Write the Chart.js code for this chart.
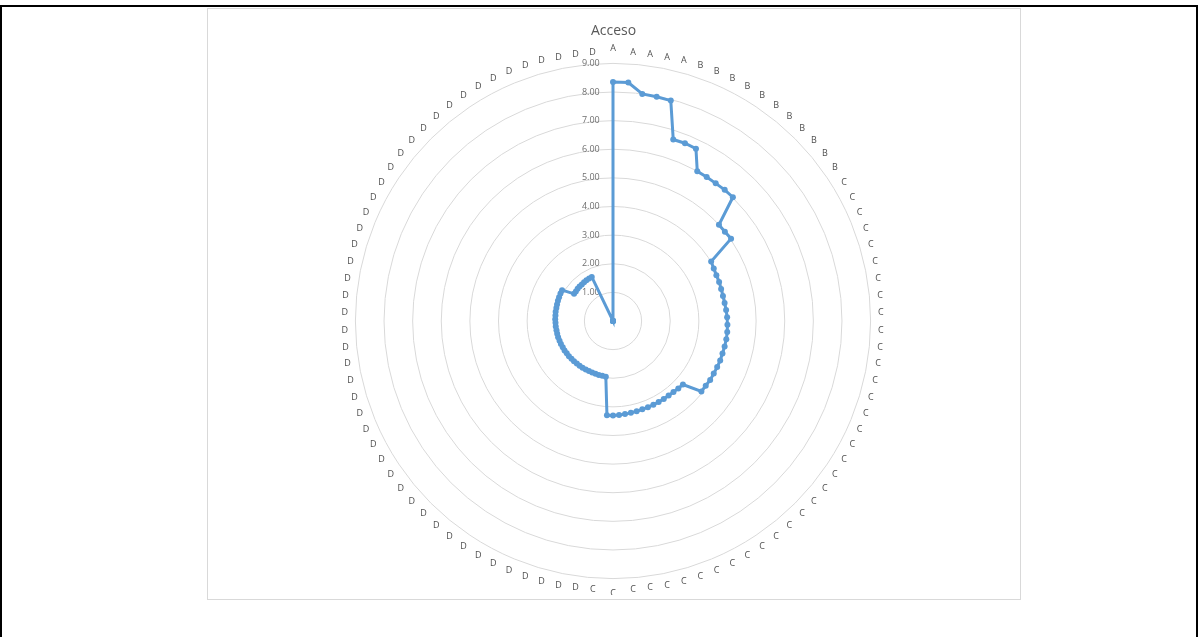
<!DOCTYPE html>
<html>
<head>
<meta charset="utf-8">
<title>Acceso</title>
<script src="https://cdn.jsdelivr.net/npm/chart.js@4/dist/chart.umd.min.js"></script>
<style>
  body { margin: 0; background: #fff; width: 1200px; height: 637px; overflow: hidden; position: relative; }
  #frame { position: absolute; left: 0; top: 5px; width: 1194px; height: 640px; border: 2px solid #000; border-bottom: none; }
  #box { position: absolute; left: 207px; top: 8px; width: 814px; height: 592px; border: 1px solid #d9d9d9; box-sizing: border-box; }
  #radar { position: absolute; left: 206px; top: 8px; }
</style>
</head>
<body>
<div id="frame"></div>
<div id="box"></div>
<canvas id="radar" width="815" height="587"></canvas>
<script>
"use strict"

// Kategorier (98 st, A-B-C-D runt cirkeln)
const categoriesA = ["A", "A", "A", "A", "A"];
const categoriesB = ["B", "B", "B", "B", "B", "B", "B", "B", "B", "B", "B"];
const categoriesC = [
    "C", "C", "C", "C", "C", "C", "C", "C", "C", "C",
    "C", "C", "C", "C", "C", "C", "C", "C", "C", "C",
    "C", "C", "C", "C", "C", "C", "C", "C", "C", "C",
    "C", "C", "C", "C", "C"
];
const categoriesD = [
    "D", "D", "D", "D", "D", "D", "D", "D", "D", "D",
    "D", "D", "D", "D", "D", "D", "D", "D", "D", "D",
    "D", "D", "D", "D", "D", "D", "D", "D", "D", "D",
    "D", "D", "D", "D", "D", "D", "D", "D", "D", "D",
    "D", "D", "D", "D", "D", "D", "D"
];

// Värden per grupp
const valuesA = [8.35, 8.35, 8.00, 7.98, 7.96];
const valuesB = [6.68, 6.70, 6.68, 6.00, 6.00, 6.00, 6.02, 6.02, 5.00, 5.00, 5.03];
const valuesC = [
    4.01, 3.97, 3.95, 3.95, 3.94, 3.94, 3.95, 3.97, 3.99, 4.00,
    4.01, 4.01, 4.00, 3.99, 3.99, 3.98, 3.97, 3.97, 3.95, 3.95,
    3.30, 3.28, 3.26, 3.25, 3.25, 3.25, 3.25, 3.25, 3.25, 3.26,
    3.27, 3.28, 3.29, 3.30, 3.30
];
const valuesD = [
    1.96, 1.95, 1.95, 1.94, 1.94, 1.94, 1.94, 1.95, 1.95, 1.95,
    1.96, 1.96, 1.97, 1.97, 1.98, 1.98, 1.99, 1.99, 2.00, 2.00,
    2.00, 2.01, 2.01, 2.02, 2.02, 2.03, 2.03, 2.04, 2.05, 2.06,
    2.07, 2.08, 1.66, 1.66, 1.67, 1.68, 1.68, 1.69, 1.70, 1.70,
    1.71, 0, 0, 0, 0, 0, 0
];

// Skala
const axisMin = 0;
const axisMax = 9;
const axisStep = 1;

const labels = categoriesA.concat(categoriesB, categoriesC, categoriesD);
const values = valuesA.concat(valuesB, valuesC, valuesD);

// Avstånd för kategorietiketterna (som i Excel: mer luft överst och nederst)
function labelPadding(context) {
    const n = labels.length;
    const i = context.index;
    if (i === 0) return 10;
    if (i === n / 2) return 10;
    return 3 + 3.5 * Math.abs(Math.cos(2 * Math.PI * i / n));
}

const ctx = document.getElementById("radar");
new Chart(ctx, {
    type: "radar",
    data: {
        labels: labels,
        datasets: [{
            label: "Acceso",
            data: values,
            borderColor: "#5B9BD5",
            backgroundColor: "#5B9BD5",
            borderWidth: 3,
            pointRadius: 3,
            pointBorderWidth: 0,
            pointBackgroundColor: "#5B9BD5",
            fill: false,
            tension: 0
        }]
    },
    options: {
        responsive: false,
        animation: false,
        layout: { padding: 0 },
        plugins: {
            legend: { display: false },
            tooltip: { enabled: false },
            title: {
                display: true,
                text: "Acceso",
                color: "#595959",
                font: { family: "Open Sans", size: 14, weight: "normal" },
                padding: { top: 14.5, bottom: 8.7 }
            }
        },
        scales: {
            r: {
                min: axisMin,
                max: axisMax,
                angleLines: { display: false },
                grid: { circular: true, color: "#d9d9d9", lineWidth: 1 },
                ticks: {
                    stepSize: axisStep,
                    color: "#6f6f6f",
                    font: { family: "Open Sans", size: 9 },
                    showLabelBackdrop: false,
                    backdropPadding: 0,
                    // tomrum efter texten flyttar etiketten till vänster om axeln
                    callback: (value) => value.toFixed(2) + " ".repeat(19)
                },
                pointLabels: {
                    color: "#505050",
                    padding: labelPadding,
                    // liten radhöjd => etiketten centreras på sin punkt
                    font: { family: "Open Sans", size: 9, lineHeight: 0.1 }
                }
            }
        }
    }
});
</script>
</body>
</html>
